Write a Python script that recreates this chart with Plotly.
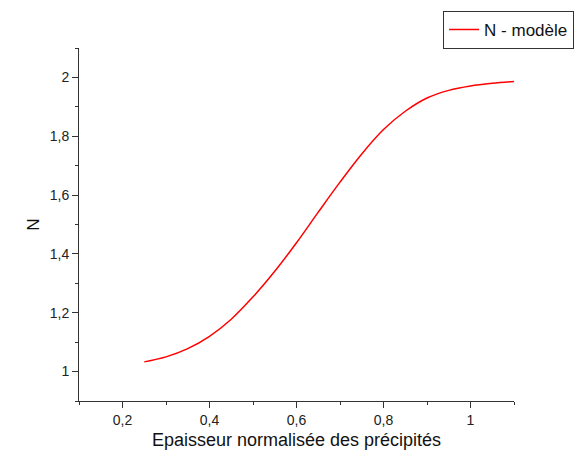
import plotly.graph_objects as go

# ── données ────────────────────────────────────────────────────
epaisseur = [0.25, 0.30, 0.35, 0.40, 0.45, 0.50, 0.55, 0.60, 0.65,
             0.70, 0.75, 0.80, 0.85, 0.90, 0.95, 1.00, 1.05, 1.10]
n_modele = [1.033, 1.050, 1.078, 1.120, 1.178, 1.254, 1.341, 1.438, 1.542,
            1.644, 1.740, 1.823, 1.885, 1.930, 1.956, 1.971, 1.980, 1.986]

x_ticks = [0.2, 0.4, 0.6, 0.8, 1.0]
y_ticks = [1.0, 1.2, 1.4, 1.6, 1.8, 2.0]

font_fam = 'Arial, Liberation Sans, sans-serif'

fig = go.Figure()
fig.add_trace(go.Scatter(
    x=epaisseur,
    y=n_modele,
    mode='lines',
    name='N - modèle',
    line=dict(color='#ff0000', width=1.5, shape='spline', smoothing=1.0),
))

axis_common = dict(
    showgrid=False,
    zeroline=False,
    showline=True,
    linecolor='#333333',
    linewidth=1,
    ticks='outside',
    ticklen=6,
    tickcolor='#333333',
    tickfont=dict(family=font_fam, size=14, color='#222222'),
    mirror=False,
)

# la page ajoute 8 px de marge autour de la figure
fig.update_layout(
    width=574,
    height=451,
    margin=dict(l=71, r=68, t=40, b=58, autoexpand=False),
    paper_bgcolor='white',
    plot_bgcolor='white',
    separators=', ',
    font=dict(family=font_fam, color='#222222'),
    showlegend=True,
    legend=dict(
        x=0.837, y=1.105, xanchor='left', yanchor='top',
        bgcolor='white', bordercolor='#333333', borderwidth=1,
        font=dict(family=font_fam, size=17, color='#111111'),
        tracegroupgap=0, itemwidth=30,
    ),
    xaxis=dict(
        axis_common,
        range=[0.1, 1.1],
        tickvals=x_ticks,
        minor=dict(ticks='outside', ticklen=3, dtick=0.1, tick0=0.1, tickcolor='#333333'),
        title=dict(text='Epaisseur normalisée des précipités',
                   font=dict(family=font_fam, size=18, color='#111111'), standoff=6),
    ),
    yaxis=dict(
        axis_common,
        range=[0.9, 2.1],
        tickvals=y_ticks,
        minor=dict(ticks='outside', ticklen=3, dtick=0.1, tick0=0.9, tickcolor='#333333'),
        title=dict(text='N', font=dict(family=font_fam, size=17, color='#111111'), standoff=5),
    ),
)

fig.write_html('out.html')
